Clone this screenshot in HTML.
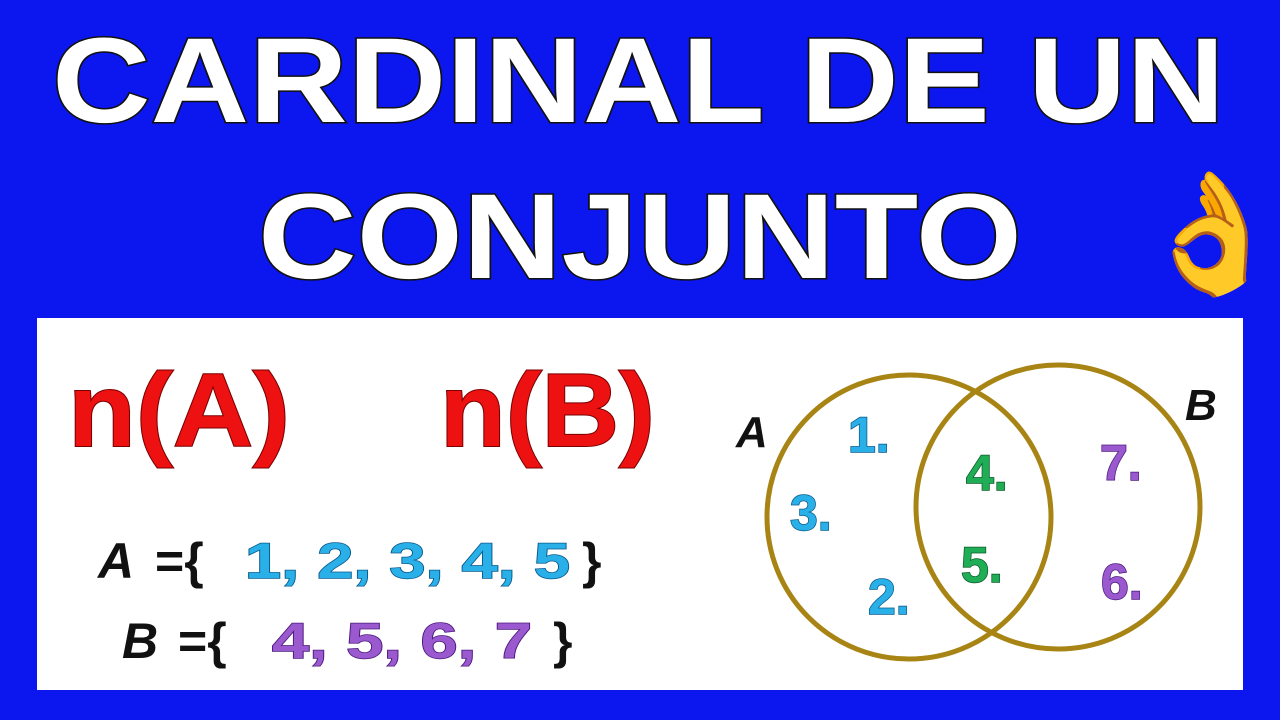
<!DOCTYPE html>
<html><head><meta charset="utf-8"><style>
html,body{margin:0;padding:0;background:#0b17ee;}
svg{display:block}
</style></head><body>
<svg width="1280" height="720" viewBox="0 0 1280 720">
<rect x="0" y="0" width="1280" height="720" fill="#0b17ee"/>
<g font-family="Liberation Sans, sans-serif" font-weight="bold" fill="#fff" stroke="#111" stroke-width="3" paint-order="stroke">
<text x="52" y="122" font-size="121" textLength="1173" lengthAdjust="spacingAndGlyphs">CARDINAL DE UN</text>
<text x="258" y="278" font-size="121" textLength="764" lengthAdjust="spacingAndGlyphs">CONJUNTO</text>
</g>
<text x="1138" y="274" font-size="118" font-family="DejaVu Sans, sans-serif" fill="#f5c518">👌</text>
<rect x="37" y="318" width="1206" height="372" fill="#fff"/>
<g font-family="Liberation Sans, sans-serif" font-weight="bold" fill="#ee1111" stroke="#7a0000" stroke-width="2" paint-order="stroke">
<text x="68" y="446" font-size="104" textLength="222" lengthAdjust="spacingAndGlyphs">n(A)</text>
<text x="440" y="446" font-size="104" textLength="215" lengthAdjust="spacingAndGlyphs">n(B)</text>
</g>
<g font-family="Liberation Sans, sans-serif" font-weight="bold" font-size="50">
<text x="98" y="578" fill="#111" font-style="italic">A</text>
<text x="155" y="578" fill="#111">={</text>
<text x="245" y="578" fill="#29b0e8" stroke="#0a5a8a" stroke-width="1.5" paint-order="stroke" textLength="325" lengthAdjust="spacingAndGlyphs">1, 2, 3, 4, 5</text>
<text x="582" y="578" fill="#111">}</text>
<text x="122" y="658" fill="#111" font-style="italic">B</text>
<text x="178" y="658" fill="#111">={</text>
<text x="272" y="658" fill="#9b59d0" stroke="#4a1a7a" stroke-width="1.5" paint-order="stroke" textLength="260" lengthAdjust="spacingAndGlyphs">4, 5, 6, 7</text>
<text x="553" y="658" fill="#111">}</text>
</g>
<circle cx="909" cy="517" r="142" fill="none" stroke="#a88414" stroke-width="5"/>
<circle cx="1058" cy="507" r="142" fill="none" stroke="#a88414" stroke-width="5"/>
<g font-family="Liberation Sans, sans-serif" font-weight="bold" font-style="italic" font-size="44" fill="#111">
<text x="736" y="447">A</text>
<text x="1185" y="420">B</text>
</g>
<g font-family="Liberation Sans, sans-serif" font-weight="bold" font-size="50" stroke-width="1.5" paint-order="stroke">
<text x="848" y="452" fill="#29b0e8" stroke="#0a5a8a">1.</text>
<text x="790" y="530" fill="#29b0e8" stroke="#0a5a8a">3.</text>
<text x="868" y="614" fill="#29b0e8" stroke="#0a5a8a">2.</text>
<text x="966" y="490" fill="#1fae55" stroke="#0a5a2a">4.</text>
<text x="961" y="582" fill="#1fae55" stroke="#0a5a2a">5.</text>
<text x="1100" y="480" fill="#9b59d0" stroke="#4a1a7a">7.</text>
<text x="1101" y="599" fill="#9b59d0" stroke="#4a1a7a">6.</text>
</g>
</svg>
</body></html>
